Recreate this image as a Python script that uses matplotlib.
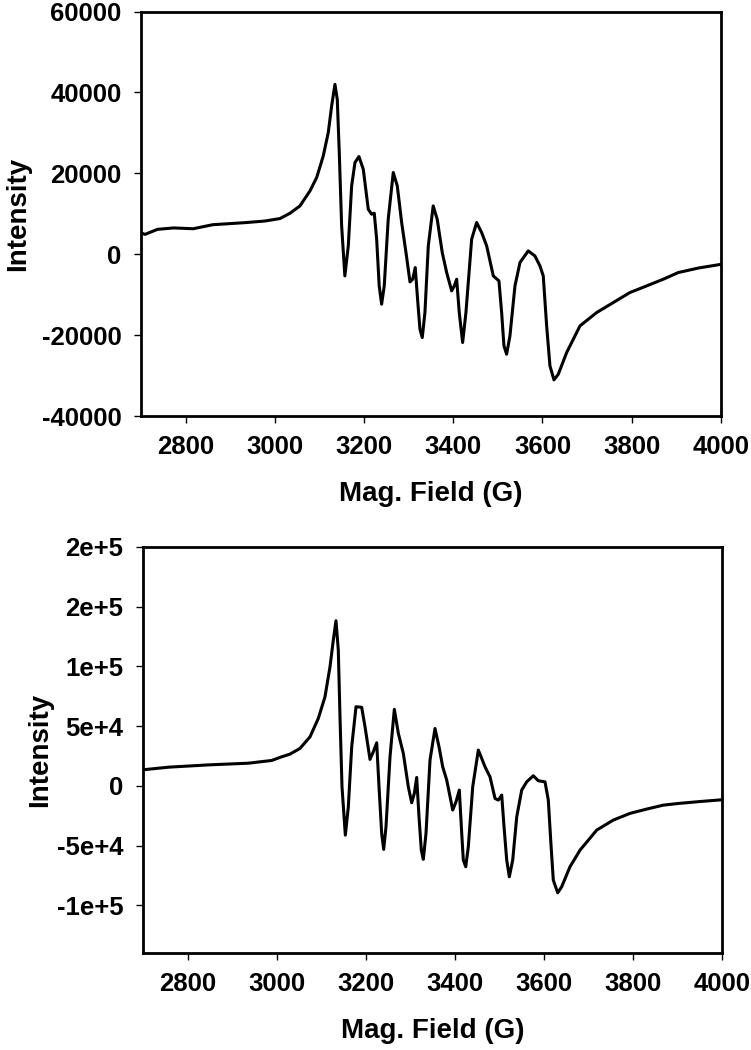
import matplotlib
matplotlib.use("Agg")
from matplotlib import pyplot as plt

plt.rcParams['font.family'] = ['Liberation Sans', 'DejaVu Sans']
plt.rcParams['font.weight'] = 'bold'
plt.rcParams['axes.unicode_minus'] = False

# ---- top spectrum (field in G, intensity) ----
field_top = [2700, 2709, 2737, 2773, 2817, 2861, 2932, 2977, 3011.6, 3034, 3056.4, 3078.8,
             3093.8, 3108.6, 3119.8, 3127.4, 3134.8, 3140, 3144.5, 3149.8, 3157, 3164.7,
             3172.2, 3179.7, 3188.6, 3198.3, 3209.5, 3217, 3222.9, 3228.3, 3234, 3239.4,
             3245.3, 3254.2, 3265.5, 3274.5, 3284.3, 3294, 3303, 3309, 3314.8, 3320,
             3325.3, 3330.5, 3336.5, 3344, 3355, 3364, 3375.3, 3385.2, 3396.4, 3402.3,
             3407.6, 3413.4, 3421, 3428.4, 3441.2, 3452.4, 3463.6, 3474.9, 3489.7, 3502.4,
             3508.4, 3513.6, 3519.6, 3527, 3538.3, 3549.5, 3568.1, 3583, 3594.3, 3601.7,
             3609.3, 3616.7, 3625.7, 3635.4, 3654.2, 3684, 3721.4, 3758.6, 3796, 3833.5,
             3870.7, 3904.3, 3950, 4000]
int_top = [5300, 4900, 6150, 6500, 6300, 7300, 7800, 8200, 8820, 10130, 11950, 15650,
           18950, 24300, 30080, 36660, 42000, 38300, 25140, 7000, -5360, 2050,
           16900, 22670, 24150, 21000, 11120, 9890, 10130, 3700, -7830, -12360,
           -7830, 8650, 20200, 16900, 7840, 420, -6840, -6180, -3300, -11120,
           -18540, -20600, -14420, 2050, 11950, 8650, 420, -4530, -9060, -7830,
           -6180, -14420, -21830, -14420, 3700, 7840, 5360, 2050, -5360, -6600,
           -14420, -22670, -24720, -20200, -7830, -2050, 820, -420, -2890, -5360,
           -17720, -27600, -31060, -29660, -24300, -17720, -14420, -11950, -9470, -7830,
           -6180, -4530, -3400, -2500]

# ---- bottom spectrum ----
field_bot = [2700, 2758, 2847, 2936, 2989, 3007.6, 3030, 3052.5, 3075, 3093.6, 3108.6, 3119.9,
             3127.3, 3133.3, 3138.5, 3142.3, 3146.8, 3154.3, 3161, 3168.6, 3178.3, 3191,
             3198.5, 3209.7, 3217.1, 3224.7, 3229.9, 3235.9, 3240.4, 3245.6, 3254.6, 3264.3,
             3273.3, 3284.5, 3295.7, 3303.3, 3309.2, 3314.5, 3319.7, 3324.9, 3329.4, 3335.4,
             3344.4, 3355.6, 3364.6, 3372.9, 3381.9, 3395.4, 3402.8, 3410.2, 3415.6, 3419.2,
             3424.6, 3430.4, 3440.3, 3452.9, 3460.5, 3467.9, 3479.1, 3490.4, 3497.8, 3505.4,
             3510.6, 3516.6, 3522.5, 3530.1, 3539.1, 3550.3, 3561.5, 3576.3, 3587.6, 3602.6,
             3610, 3615.4, 3621.2, 3631.1, 3640, 3658.7, 3681.2, 3718.7, 3756, 3793.5,
             3831, 3868.2, 3902, 3950, 4000]
int_bot = [13400, 15600, 17500, 18900, 21200, 23800, 26500, 31300, 41000, 56400, 74500, 99700,
           122000, 138200, 113600, 57800, -800, -41300, -17600, 32700, 66200, 65700,
           49400, 22100, 28500, 36000, -800, -39900, -53300, -34300, 24300, 64000,
           43900, 27100, -800, -14200, -6400, 7000, -26000, -53900, -61600, -39900,
           21500, 48000, 32700, 15900, 4800, -20300, -13400, -3600, -39900, -62200,
           -67800, -51100, -800, 29900, 22900, 15900, 7500, -10600, -12000, -7800,
           -34300, -62200, -76200, -62200, -26000, -3600, 3300, 8400, 4200, 3300,
           -12000, -45500, -79000, -89600, -84600, -67800, -53900, -37100, -28700, -23100,
           -19500, -16200, -14800, -13200, -11700]

x_ticks = [2800, 3000, 3200, 3400, 3600, 3800, 4000]
y_ticks_top = [-40000, -20000, 0, 20000, 40000, 60000]
y_ticks_bot = [-100000, -50000, 0, 50000, 100000, 150000, 200000]
y_labels_bot = ['-1e+5', '-5e+4', '0', '5e+4', '1e+5', '2e+5', '2e+5']

fig = plt.figure(figsize=(7.51, 10.5), dpi=100)
ax1 = fig.add_axes([0.1877, 0.6038, 0.7723, 0.3852])
ax2 = fig.add_axes([0.1904, 0.0924, 0.7710, 0.3867])

ax1.plot(field_top, int_top, color='black', linewidth=2.2, solid_joinstyle='round')
ax2.plot(field_bot, int_bot, color='black', linewidth=2.2, solid_joinstyle='round')

ax1.set_ylim(-40000, 60000)
ax1.set_yticks(y_ticks_top)
ax2.set_ylim(-140000, 200000)
ax2.set_yticks(y_ticks_bot)
ax2.set_yticklabels(y_labels_bot)

for ax in (ax1, ax2):
    ax.set_xlim(2700, 4000)
    ax.set_xticks(x_ticks)
    for sp in ax.spines.values():
        sp.set_linewidth(2.0)
    ax.tick_params(direction='out', length=5, width=1.0, labelsize=18.5, pad=9)
    for lab in ax.get_xticklabels() + ax.get_yticklabels():
        lab.set_fontweight('bold')
    ax.set_xlabel('Mag. Field (G)', fontsize=20, fontweight='bold')
    ax.set_ylabel('Intensity', fontsize=20, fontweight='bold')

ax1.xaxis.set_label_coords(0.5, -0.16)
ax1.yaxis.set_label_coords(-0.19, 0.5)
ax2.xaxis.set_label_coords(0.5, -0.16)
ax2.yaxis.set_label_coords(-0.156, 0.5)

plt.savefig('out.png', dpi=100)
